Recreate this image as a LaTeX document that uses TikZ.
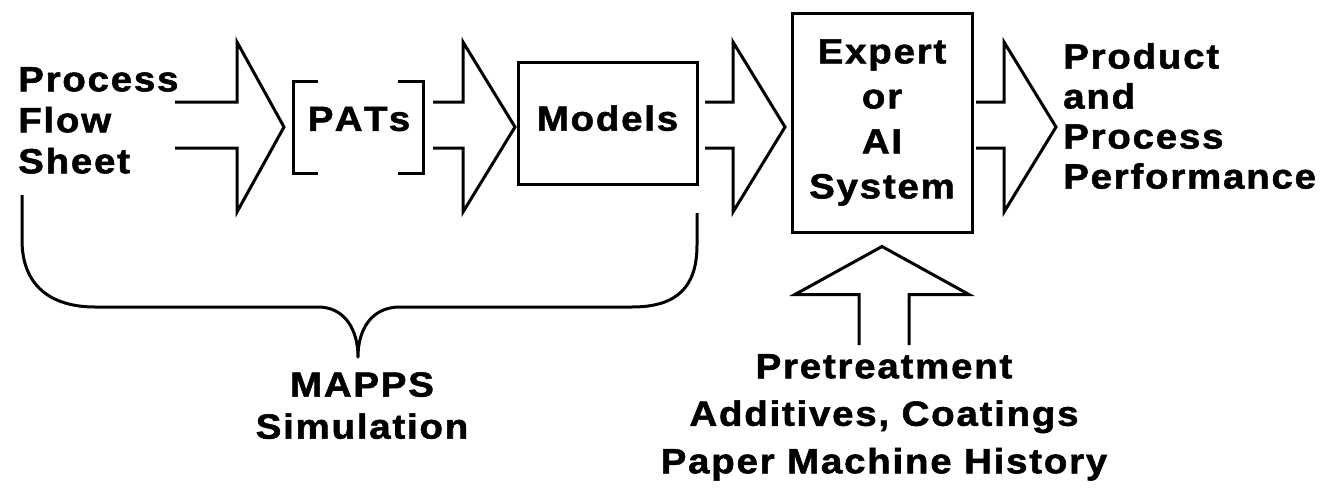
\documentclass[tikz,border=0pt]{standalone}
\usepackage{fontspec}
\newfontfamily\labelfont{Liberation Sans}[FakeStretch=1.1,LetterSpace=5,FakeBold=1.5]
\usetikzlibrary{calc}

% hollow block arrow pointing right: #1 shaft start, #2 tip, #3 head length
\newcommand\hollowright[3]{%
  \draw[outline] let \p1=(#1), \p2=(#2) in
    (\x1,\y1+23pt) -- (\x2-#3,\y1+23pt) -- (\x2-#3,\y2+85pt) -- (\x2,\y2)
    -- (\x2-#3,\y2-85pt) -- (\x2-#3,\y1-23pt) -- (\x1,\y1-23pt);}
% hollow block arrow pointing up: #1 shaft foot, #2 tip, #3 head length
\newcommand\hollowup[3]{%
  \draw[outline] let \p1=(#1), \p2=(#2) in
    (\x1-25pt,\y1) -- (\x1-25pt,\y2-#3) -- (\x2-87pt,\y2-#3) -- (\x2,\y2)
    -- (\x2+87pt,\y2-#3) -- (\x1+25pt,\y2-#3) -- (\x1+25pt,\y1);}

\tikzset{
  lbl/.style={font=\labelfont\bfseries\fontsize{35}{#1}\selectfont, inner sep=0pt},
  lbl/.default=41,
  outline/.style={line width=3pt, line join=miter, draw=black},
  boxed/.style={lbl=#1, draw=black, line width=3pt, align=center},
}

\begin{document}
\begin{tikzpicture}[x=1pt,y=-1pt]
  \useasboundingbox (0,0) rectangle (1330,490);

  % inputs on the left
  \node[lbl=41, align=left, anchor=north west] (src) at (18,67) {Process\\Flow\\Sheet};

  % PATs between square brackets
  \node[lbl] (pats) at (359,119) {\addfontfeature{LetterSpace=12}PATs};
  \draw[outline] ([shift={(-41,-38)}]pats.center) -- ([shift={(-66,-38)}]pats.center)
    -- ([shift={(-66,54)}]pats.center) -- ([shift={(-41,54)}]pats.center);
  \draw[outline] ([shift={(39,-38)}]pats.center) -- ([shift={(64,-38)}]pats.center)
    -- ([shift={(64,54)}]pats.center) -- ([shift={(39,54)}]pats.center);

  % model block
  \node[boxed=41, minimum width=179, minimum height=122, text depth=10pt]
    (models) at (607.5,123) {Models};

  % expert system block
  \node[boxed=45, minimum width=180, minimum height=219]
    (expert) at (882,122.5) {Expert\\or\\AI\\System};

  % results
  \node[lbl=40, align=left, anchor=north west] (out) at (1063,43)
    {Product\\and\\Process\\Performance};

  % flow arrows
  \coordinate (s1) at (175,125);  \coordinate (t1) at (284,127);
  \coordinate (s2) at (433,125);  \coordinate (t2) at (515,127);
  \coordinate (s3) at (705,125);  \coordinate (t3) at (785,127);
  \coordinate (s4) at (976,125);  \coordinate (t4) at (1056,127);
  \hollowright{s1}{t1}{47pt}
  \hollowright{s2}{t2}{52pt}
  \hollowright{s3}{t3}{52pt}
  \hollowright{s4}{t4}{52pt}

  % side inputs to the expert system
  \node[lbl=47.5, align=center, anchor=north] (pre) at (884,354)
    {Pretreatment\\Additives, Coatings\\Paper Machine History};
  \hollowup{[yshift=9pt]pre.north}{[yshift=-13pt]expert.south}{48pt}

  % brace grouping the simulation part
  \coordinate (bl) at (22,195);
  \coordinate (br) at (697,213);
  \coordinate (bt) at (358,357);
  \draw[outline, line join=round] (bl) -- (22,240)
    .. controls (22,285) and (50,307) .. (95,307) -- (318,307)
    .. controls (345,307) and (358,330) .. (bt)
    .. controls (358,330) and (371,307) .. (400,307) -- (632,307)
    .. controls (677,307) and (697,287) .. (697,245) -- (br);
  \node[lbl=42, align=center, anchor=north] (mapps) at (362,372) {MAPPS\\Simulation};
\end{tikzpicture}
\end{document}
